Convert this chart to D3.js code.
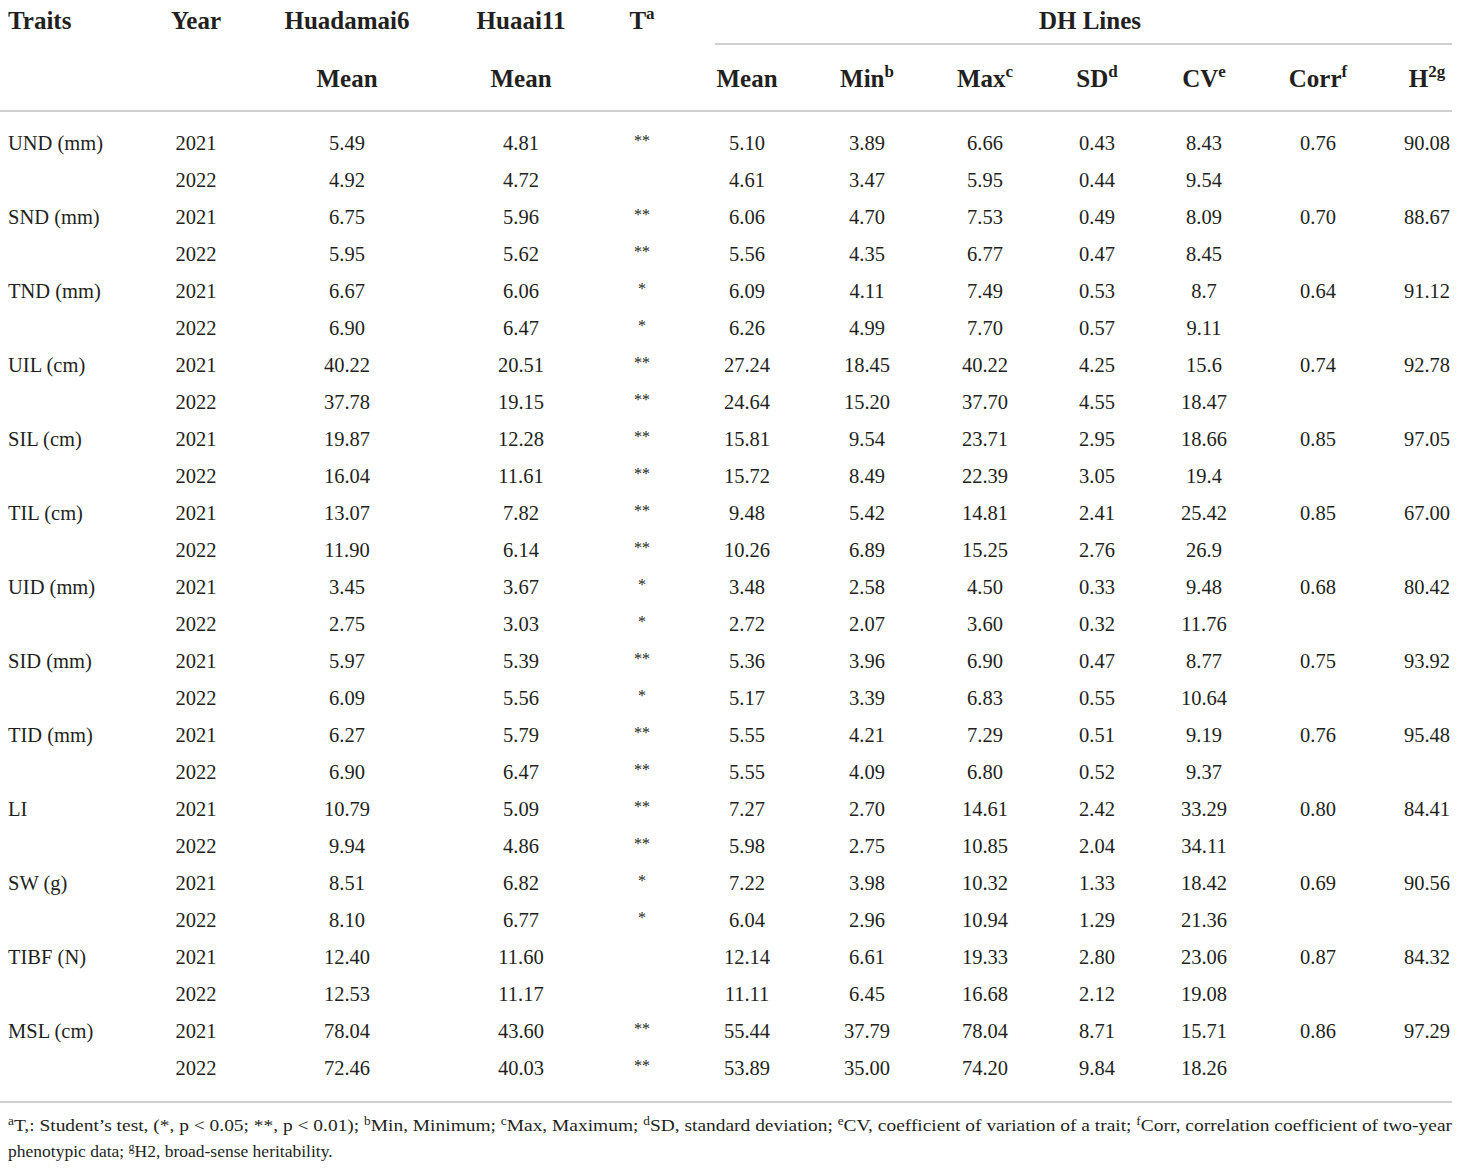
<!DOCTYPE html>
<html>
<head>
<meta charset="utf-8">
<script src="https://cdn.jsdelivr.net/npm/d3@7"></script>
<style>
  body { margin: 0; background: #fff; }
  svg text { font-family: "Liberation Serif", "Times New Roman", serif; fill: #231f20; }
</style>
</head>
<body>
<main></main>
<script>
const width = 1460
const height = 1168

// table values, two rows (2021, 2022) per trait
const traits = ['UND (mm)', 'SND (mm)', 'TND (mm)', 'UIL (cm)', 'SIL (cm)', 'TIL (cm)', 'UID (mm)', 'SID (mm)', 'TID (mm)', 'LI', 'SW (g)', 'TIBF (N)', 'MSL (cm)']
const years = ['2021', '2022']
const huadamai6 = ['5.49', '4.92', '6.75', '5.95', '6.67', '6.90', '40.22', '37.78', '19.87', '16.04', '13.07', '11.90', '3.45', '2.75', '5.97', '6.09', '6.27', '6.90', '10.79', '9.94', '8.51', '8.10', '12.40', '12.53', '78.04', '72.46']
const huaai11 = ['4.81', '4.72', '5.96', '5.62', '6.06', '6.47', '20.51', '19.15', '12.28', '11.61', '7.82', '6.14', '3.67', '3.03', '5.39', '5.56', '5.79', '6.47', '5.09', '4.86', '6.82', '6.77', '11.60', '11.17', '43.60', '40.03']
const tTest = ['**', '', '**', '**', '*', '*', '**', '**', '**', '**', '**', '**', '*', '*', '**', '*', '**', '**', '**', '**', '*', '*', '', '', '**', '**']
const dhMean = ['5.10', '4.61', '6.06', '5.56', '6.09', '6.26', '27.24', '24.64', '15.81', '15.72', '9.48', '10.26', '3.48', '2.72', '5.36', '5.17', '5.55', '5.55', '7.27', '5.98', '7.22', '6.04', '12.14', '11.11', '55.44', '53.89']
const dhMin = ['3.89', '3.47', '4.70', '4.35', '4.11', '4.99', '18.45', '15.20', '9.54', '8.49', '5.42', '6.89', '2.58', '2.07', '3.96', '3.39', '4.21', '4.09', '2.70', '2.75', '3.98', '2.96', '6.61', '6.45', '37.79', '35.00']
const dhMax = ['6.66', '5.95', '7.53', '6.77', '7.49', '7.70', '40.22', '37.70', '23.71', '22.39', '14.81', '15.25', '4.50', '3.60', '6.90', '6.83', '7.29', '6.80', '14.61', '10.85', '10.32', '10.94', '19.33', '16.68', '78.04', '74.20']
const dhSD = ['0.43', '0.44', '0.49', '0.47', '0.53', '0.57', '4.25', '4.55', '2.95', '3.05', '2.41', '2.76', '0.33', '0.32', '0.47', '0.55', '0.51', '0.52', '2.42', '2.04', '1.33', '1.29', '2.80', '2.12', '8.71', '9.84']
const dhCV = ['8.43', '9.54', '8.09', '8.45', '8.7', '9.11', '15.6', '18.47', '18.66', '19.4', '25.42', '26.9', '9.48', '11.76', '8.77', '10.64', '9.19', '9.37', '33.29', '34.11', '18.42', '21.36', '23.06', '19.08', '15.71', '18.26']
const corr = ['0.76', '0.70', '0.64', '0.74', '0.85', '0.85', '0.68', '0.75', '0.76', '0.80', '0.69', '0.87', '0.86']
const h2 = ['90.08', '88.67', '91.12', '92.78', '97.05', '67.00', '80.42', '93.92', '95.48', '84.41', '90.56', '84.32', '97.29']

const columns = ['traits', 'year', 'hua6', 'hua11', 't', 'mean', 'min', 'max', 'sd', 'cv', 'corr', 'h2']

const svg = d3.select('main')
              .append('svg')
              .attr('width', width)
              .attr('height', height)

const xScale = d3.scaleOrdinal()
                .domain(columns)
                .range([8, 196, 347, 521, 642, 747, 867, 985, 1097, 1204, 1318, 1427])

const rowIdx = d3.range(traits.length * years.length)
const yScale = d3.scalePoint()
                .domain(rowIdx)
                .range([150, 1075])

// build the body rows from the arrays
const rows = rowIdx.map(i => {
  const first = i % 2 === 0
  const k = Math.floor(i / 2)
  return {
    i,
    traits: first ? traits[k] : '',
    year: years[i % 2],
    hua6: huadamai6[i],
    hua11: huaai11[i],
    t: tTest[i],
    mean: dhMean[i],
    min: dhMin[i],
    max: dhMax[i],
    sd: dhSD[i],
    cv: dhCV[i],
    corr: first ? corr[k] : '',
    h2: first ? h2[k] : ''
  }
})

const lineColor = '#cfcfcf'
const hline = (x1, x2, y) => {
  svg.append('line')
     .attr('x1', x1).attr('x2', x2)
     .attr('y1', y).attr('y2', y)
     .attr('stroke', lineColor)
     .attr('stroke-width', 2)
}

// header
const head = svg.append('g').attr('font-weight', 'bold').attr('font-size', 25)

const headTop = [
  { col: 'traits', label: 'Traits', anchor: 'start' },
  { col: 'year', label: 'Year' },
  { col: 'hua6', label: 'Huadamai6' },
  { col: 'hua11', label: 'Huaai11' },
  { col: 't', label: 'T', sup: 'a' }
]
const headBottom = [
  { col: 'hua6', label: 'Mean' },
  { col: 'hua11', label: 'Mean' },
  { col: 'mean', label: 'Mean' },
  { col: 'min', label: 'Min', sup: 'b' },
  { col: 'max', label: 'Max', sup: 'c' },
  { col: 'sd', label: 'SD', sup: 'd' },
  { col: 'cv', label: 'CV', sup: 'e' },
  { col: 'corr', label: 'Corr', sup: 'f' },
  { col: 'h2', label: 'H', sup: '2g' }
]

const headCells = (list, y) => {
  list.forEach(h => {
    const t = head.append('text')
                  .attr('x', xScale(h.col))
                  .attr('y', y)
                  .attr('text-anchor', h.anchor || 'middle')
    t.append('tspan').text(h.label)
    if (h.sup) {
      t.append('tspan')
       .attr('dy', -10)
       .attr('font-size', 17)
       .text(h.sup)
    }
  })
}
headCells(headTop, 29)
headCells(headBottom, 87)

head.append('text')
    .attr('x', (xScale('mean') + xScale('h2')) / 2 + 3)
    .attr('y', 29)
    .attr('text-anchor', 'middle')
    .text('DH Lines')

hline(715, 1452, 44)
hline(0, 1452, 111)

// body
const body = svg.append('g')

columns.forEach(col => {
  const small = col === 't'
  body.selectAll(null)
      .data(rows.filter(r => r[col] !== ''))
      .enter()
      .append('text')
      .attr('x', xScale(col))
      .attr('y', d => yScale(d.i) - (small ? 4 : 0))
      .attr('text-anchor', col === 'traits' ? 'start' : 'middle')
      .attr('font-size', small ? 16 : 20.5)
      .text(d => d[col])
})

hline(0, 1452, 1102)

// footnote
const foot = svg.append('text')
                .attr('x', 8)
                .attr('y', 1131)
                .attr('font-size', 17.5)
                .attr('textLength', 1444)
                .attr('lengthAdjust', 'spacingAndGlyphs')
const notes = [
  ['a', 'T,: Student\u2019s test, (*, p < 0.05; **, p < 0.01); '],
  ['b', 'Min, Minimum; '],
  ['c', 'Max, Maximum; '],
  ['d', 'SD, standard deviation; '],
  ['e', 'CV, coefficient of variation of a trait; '],
  ['f', 'Corr, correlation coefficient of two-year']
]
notes.forEach(n => {
  foot.append('tspan').attr('font-size', 12).attr('dy', -6).text(n[0])
  foot.append('tspan').attr('dy', 6).text(n[1])
})

const foot2 = svg.append('text')
                 .attr('x', 8)
                 .attr('y', 1157)
                 .attr('font-size', 17.5)
foot2.append('tspan').text('phenotypic data; ')
foot2.append('tspan').attr('font-size', 12).attr('dy', -6).text('g')
foot2.append('tspan').attr('dy', 6).text('H2, broad-sense heritability.')
</script>
</body>
</html>
